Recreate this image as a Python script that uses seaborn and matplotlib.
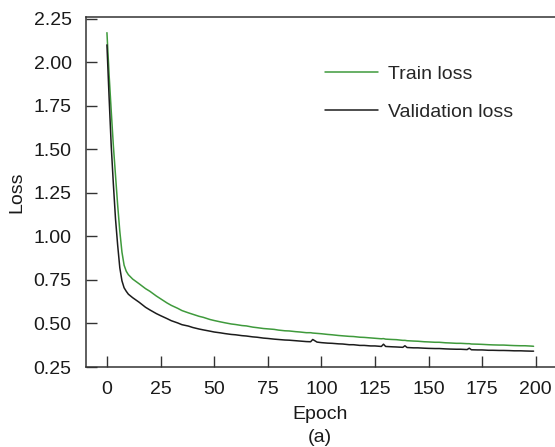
import numpy as np
import pandas as pd
import matplotlib
matplotlib.use("Agg")
import matplotlib.pyplot as plt
import seaborn as sns

# values
epochs = [0, 1, 2, 3, 4, 5, 6, 7, 8, 9, 10, 12, 15, 18, 20, 23, 25, 28, 30, 33, 35,
          38, 40, 43, 45, 48, 50, 53, 55, 58, 60, 63, 65, 68, 70, 73, 75, 78, 80,
          83, 85, 88, 90, 93, 95, 96, 98, 100, 103, 105, 108, 110, 113, 115, 118,
          120, 123, 125, 128, 129, 130, 133, 135, 138, 139, 140, 143, 145, 148,
          150, 153, 155, 158, 160, 163, 165, 168, 169, 170, 173, 175, 178, 180,
          183, 185, 188, 190, 193, 195, 198, 199]

train_loss = [2.17, 1.93, 1.72, 1.52, 1.35, 1.18, 1.03, 0.91, 0.835, 0.80, 0.78, 0.755,
              0.728, 0.70, 0.685, 0.658, 0.642, 0.618, 0.604, 0.587, 0.574, 0.561, 0.553,
              0.541, 0.535, 0.523, 0.517, 0.509, 0.504, 0.497, 0.494, 0.488, 0.486,
              0.479, 0.476, 0.471, 0.469, 0.466, 0.462, 0.458, 0.457, 0.453, 0.451,
              0.447, 0.447, 0.445, 0.443, 0.441, 0.437, 0.435, 0.431, 0.429, 0.426,
              0.425, 0.421, 0.420, 0.417, 0.415, 0.412, 0.413, 0.41, 0.408, 0.407,
              0.403, 0.403, 0.401, 0.399, 0.398, 0.395, 0.394, 0.392, 0.392, 0.389,
              0.388, 0.386, 0.386, 0.384, 0.384, 0.382, 0.381, 0.380, 0.378, 0.377,
              0.376, 0.376, 0.374, 0.373, 0.372, 0.372, 0.37, 0.369]

val_loss = [2.10, 1.80, 1.52, 1.30, 1.10, 0.95, 0.82, 0.745, 0.705, 0.685, 0.668, 0.648,
            0.622, 0.593, 0.578, 0.557, 0.545, 0.528, 0.516, 0.503, 0.493, 0.485,
            0.477, 0.468, 0.463, 0.456, 0.451, 0.446, 0.442, 0.437, 0.435, 0.43,
            0.428, 0.423, 0.421, 0.416, 0.414, 0.41, 0.408, 0.405, 0.404, 0.401,
            0.399, 0.396, 0.395, 0.408, 0.393, 0.39, 0.387, 0.386, 0.383, 0.382,
            0.378, 0.378, 0.374, 0.374, 0.371, 0.371, 0.368, 0.381, 0.368, 0.366,
            0.365, 0.363, 0.372, 0.362, 0.36, 0.36, 0.358, 0.357, 0.356, 0.356,
            0.354, 0.353, 0.352, 0.352, 0.35, 0.358, 0.349, 0.348, 0.348, 0.346,
            0.346, 0.345, 0.345, 0.344, 0.343, 0.343, 0.342, 0.341, 0.341]

y_ticks = [0.25, 0.50, 0.75, 1.00, 1.25, 1.50, 1.75, 2.00, 2.25]
x_ticks = [0, 25, 50, 75, 100, 125, 150, 175, 200]

sns.set_style("ticks")
plt.rcParams["font.family"] = ["Liberation Sans", "DejaVu Sans"]

df = pd.DataFrame({
    "Epoch": epochs * 2,
    "Loss": train_loss + val_loss,
    "Series": ["Train loss"] * len(epochs) + ["Validation loss"] * len(epochs),
})

fig = plt.figure(figsize=(5.55, 4.47), dpi=100)
ax = fig.add_axes([85.5 / 555, 1 - 367 / 447, 1 - 85.5 / 555, (367 - 17) / 447])

sns.lineplot(data=df, x="Epoch", y="Loss", hue="Series",
             palette={"Train loss": "#3f9a3c", "Validation loss": "#1c1c1c"},
             linewidth=1.1, ax=ax)

ax.set_xlim(-10, 209)
ax.set_ylim(0.25, 2.26)
ax.set_xticks(x_ticks)
ax.set_yticks(y_ticks)
ax.set_yticklabels([f"{v:.2f}" for v in y_ticks])
ax.tick_params(direction="in", length=8, width=1.0, color="#333333",
               labelsize=14, pad=10, labelcolor="#1a1a1a")
for side in ["left", "bottom", "top"]:
    ax.spines[side].set_linewidth(1.1)
    ax.spines[side].set_color("#333333")
ax.spines["right"].set_visible(False)

ax.set_xlabel("Epoch", fontsize=14, labelpad=6, color="#1a1a1a")
ax.set_ylabel("Loss", fontsize=14, labelpad=6, color="#1a1a1a")

ax.legend(loc="upper left", bbox_to_anchor=(325 / 555, 1 - 65 / 447),
          bbox_transform=fig.transFigure, frameon=False, fontsize=14,
          handlelength=2.75, handletextpad=0.5, labelspacing=1.05,
          borderpad=0, borderaxespad=0, title=None)

fig.text(320 / 555, 1 - 438 / 447, "(a)", ha="center", va="center",
         fontsize=14, color="#1a1a1a")

fig.savefig("out.png", dpi=100)
